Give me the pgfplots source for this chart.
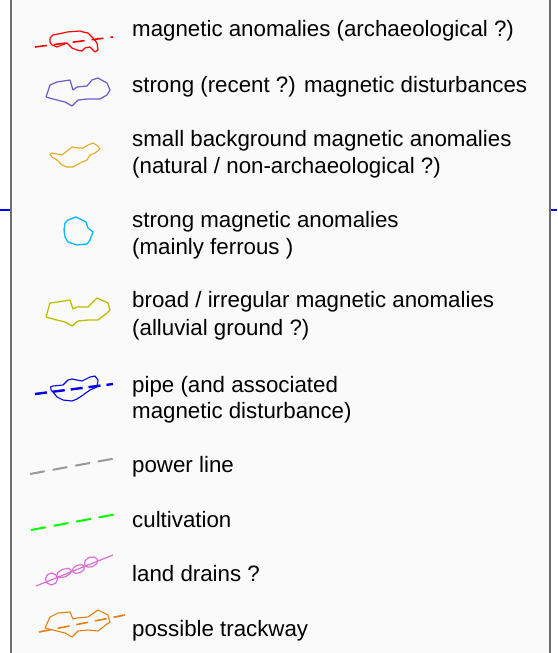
\documentclass[border=0pt]{standalone}
\usepackage{fontspec}
\setmainfont{Liberation Sans}
\usepackage{pgfplots}
\pgfplotsset{compat=1.18}
\definecolor{boxbg}{HTML}{FAFAFA}
\definecolor{boxline}{HTML}{6E6E6E}
\definecolor{cpurple}{HTML}{6A5ACD}
\definecolor{cgold}{HTML}{E6AA22}
\definecolor{ccyan}{HTML}{00BBFF}
\definecolor{colive}{HTML}{BDBD00}
\definecolor{cpipe}{HTML}{0000E6}
\definecolor{cgray}{HTML}{999999}
\definecolor{cgreen}{HTML}{00FF00}
\definecolor{cpink}{HTML}{DA70D6}
\definecolor{corange}{HTML}{E67E10}
\begin{document}
\begin{tikzpicture}
\begin{axis}[
  width=557pt, height=653pt, scale only axis,
  xmin=0, xmax=557, ymin=0, ymax=653, y dir=reverse,
  hide axis, clip=true,
  every axis plot/.append style={line join=round},
]
% white page background (sets the extent)
\addplot[draw=none, fill=white] coordinates {(0,0)(557,0)(557,653)(0,653)(0,0)};
% connecting blue line outside box
\addplot[blue, line width=2pt] coordinates {(0,210)(557,210)};
% legend box
\addplot[draw=boxline, fill=boxbg, line width=2pt] coordinates {(11,-10)(550,-10)(550,663)(11,663)(11,-10)};

% 1 red: magnetic anomalies (archaeological)
\addplot[red, line width=1.2pt] coordinates {(50,38)(53,35)(63,33)(67,32)(80,31)(83,32)(88,33)(93,38)(97,43)(98,50)(95,52)(90,47)(85,48)(82,51)(77,50)(72,48)(67,43)(57,47)(52,45)(50,42)(50,38)};
\addplot[red, line width=1.6pt, dash pattern=on 12pt off 7pt] coordinates {(35,47)(113,37)};

% 2 purple
\addplot[cpurple, line width=1.2pt] coordinates {(46,97)(50,85)(57,82)(70,80)(73,90)(77,87)(87,86)(92,80)(98,78)(107,83)(110,90)(107,95)(100,99)(88,99)(78,100)(72,106)(65,102)(53,99)(46,97)};

% 3 gold
\addplot[cgold, line width=1.1pt] coordinates {(50,154)(52,153)(57,154)(62,155)(67,151)(72,147)(78,148)(83,148)(88,145)(93,143)(98,146)(100,149)(95,153)(90,155)(87,160)(80,163)(73,167)(67,167)(62,165)(57,160)(52,157)(50,154)};

% 4 cyan
\addplot[ccyan, line width=1.3pt] coordinates {(65,223)(68,220)(76,217)(86,222)(88,228)(93,232)(90,240)(87,244)(77,245)(68,242)(65,237)(64,230)(65,223)};

% 5 olive
\addplot[colive, line width=1.3pt] coordinates {(46,317)(50,303)(58,302)(70,300)(73,309)(77,307)(88,307)(97,298)(108,303)(110,310)(107,313)(98,320)(88,320)(78,321)(72,326)(65,322)(53,319)(46,317)};

% 6 pipe
\addplot[cpipe, line width=1.1pt] coordinates {(50.7,386.7)(53,386)(63,385)(68,380)(72,379)(82,381)(90,377)(95,376)(98,380)(97,387)(90,390)(83,395)(77,399)(72,401)(63,400)(57,397)(53,392)(51,390)(50.7,386.7)};
\addplot[cpipe, line width=2.4pt, dash pattern=on 12pt off 6pt] coordinates {(35,394)(113,384)};

% 7 power line
\addplot[cgray, line width=2pt, dash pattern=on 15pt off 8pt] coordinates {(30,474)(117,458)};
% 8 cultivation
\addplot[cgreen, line width=2pt, dash pattern=on 15pt off 8pt] coordinates {(31,530)(117,514)};

% 9 land drains
\addplot[cpink, line width=1.2pt] coordinates {(36,586)(113,555)};
\addplot[cpink, line width=1.2pt] coordinates {(57.5,579)(55.7,583.2)(51.5,585)(47.3,583.2)(45.5,579)(47.3,574.8)(51.5,573)(55.7,574.8)(57.5,579)};
\addplot[cpink, line width=1.2pt] coordinates {(71.4,570.0)(70.3,573.5)(65.5,576.7)(59.8,577.7)(56.6,576.0)(57.7,572.5)(62.5,569.3)(68.2,568.3)(71.4,570.0)};
\addplot[cpink, line width=1.2pt] coordinates {(84.5,566.6)(83.8,569.9)(80.0,572.7)(75.3,573.3)(72.5,571.4)(73.2,568.1)(77.0,565.3)(81.7,564.7)(84.5,566.6)};
\addplot[cpink, line width=1.2pt] coordinates {(97.5,559.4)(96.9,563.4)(92.9,566.6)(87.7,567.1)(84.5,564.6)(85.1,560.6)(89.1,557.4)(94.3,556.9)(97.5,559.4)};

% 10 trackway
\addplot[corange, line width=1.1pt] coordinates {(45,628)(50,617)(58,613)(70,612)(73,619)(77,618)(88,617)(98,610)(108,615)(110,622)(107,624)(98,631)(88,630)(78,631)(72,637)(65,633)(53,630)(45,628)};
\addplot[corange, line width=1.6pt, dash pattern=on 12pt off 7pt] coordinates {(39,632)(125,615)};

% labels
\begin{scope}[every node/.style={anchor=base west, inner sep=0pt, font=\fontsize{22.3}{27}\selectfont, align=left, text=black}]
\node at (axis cs:132,36) {magnetic anomalies (archaeological ?)};
\node at (axis cs:132,92) {strong (recent ?) magnetic disturbances};
\node at (axis cs:132,146) {small background magnetic anomalies};
\node at (axis cs:132,173) {(natural / non-archaeological ?)};
\node at (axis cs:132,227) {strong magnetic anomalies};
\node at (axis cs:132,254) {(mainly ferrous )};
\node at (axis cs:132,307) {broad / irregular magnetic anomalies};
\node at (axis cs:132,335) {(alluvial ground ?)};
\node at (axis cs:132,392) {pipe (and associated};
\node at (axis cs:132,418) {magnetic disturbance)};
\node at (axis cs:132,472) {power line};
\node at (axis cs:132,527) {cultivation};
\node at (axis cs:132,581) {land drains ?};
\node at (axis cs:132,636) {possible trackway};
\end{scope}
\end{axis}
\end{tikzpicture}
\end{document}
